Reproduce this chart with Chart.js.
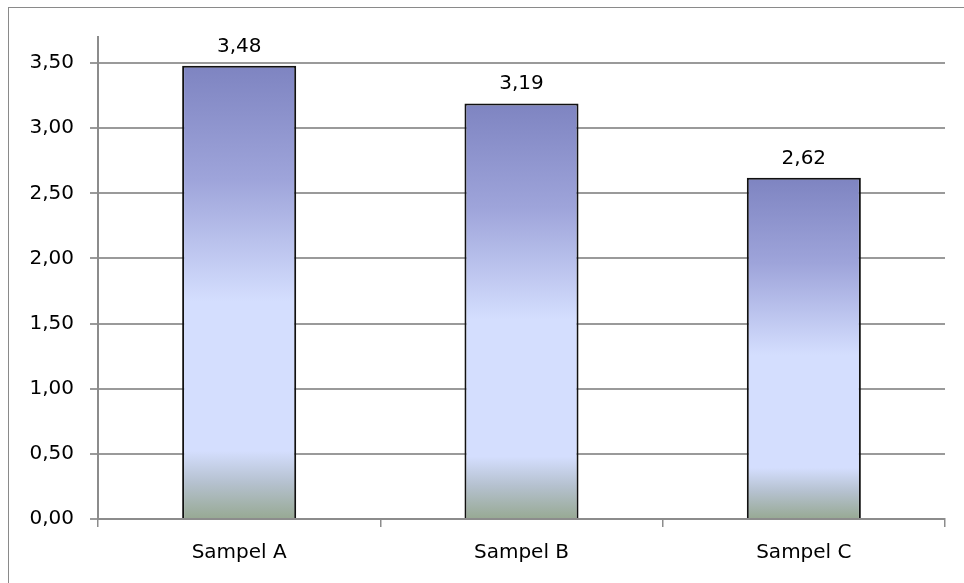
<!DOCTYPE html>
<html>
<head>
<meta charset="utf-8">
<script src="https://cdn.jsdelivr.net/npm/chart.js@4/dist/chart.umd.min.js"></script>
<style>
  html, body { margin: 0; padding: 0; background: #ffffff; }
  #wrap { position: relative; width: 964px; height: 583px; }
</style>
</head>
<body>
<div id="wrap"><canvas id="chart" width="964" height="583"></canvas></div>
<script>
// Kategori dan nilai rata-rata tiap sampel
const categories = ['Sampel A', 'Sampel B', 'Sampel C'];
const values = [3.48, 3.19, 2.62];
const yTicks = [0, 0.5, 1.0, 1.5, 2.0, 2.5, 3.0, 3.5];
const yMax = 3.7;

const FONT = '"DejaVu Sans", "Open Sans", sans-serif';
const FONT_SIZE = 20;
const fmt = v => v.toFixed(2).replace('.', ',');

// Vertical gradient spanning each bar from its top to the baseline
function barFill(context) {
  const chart = context.chart;
  if (!chart.chartArea) return '#c8d2f4';
  const y = chart.scales.y;
  const top = y.getPixelForValue(context.raw);
  const bottom = y.getPixelForValue(0);
  const g = chart.ctx.createLinearGradient(0, top, 0, bottom);
  g.addColorStop(0.00, '#7e84c1');
  g.addColorStop(0.25, '#9ea4da');
  g.addColorStop(0.52, '#d4defe');
  g.addColorStop(0.85, '#d4defe');
  g.addColorStop(0.92, '#b5c1cf');
  g.addColorStop(1.00, '#97a993');
  return g;
}

// Outer frame of the chart object (runs off the right and bottom edges)
const framePlugin = {
  id: 'frame',
  beforeDraw(chart) {
    const c = chart.ctx;
    c.save();
    c.strokeStyle = '#8a8a8a';
    c.lineWidth = 1;
    c.strokeRect(8.5, 7.5, 1000, 1000);
    c.restore();
  }
};

// Value printed above each bar
const valueLabels = {
  id: 'valueLabels',
  afterDatasetsDraw(chart) {
    const c = chart.ctx;
    const meta = chart.getDatasetMeta(0);
    c.save();
    c.font = FONT_SIZE + 'px ' + FONT;
    c.fillStyle = '#000000';
    c.textAlign = 'center';
    c.textBaseline = 'alphabetic';
    meta.data.forEach((bar, i) => {
      c.fillText(fmt(values[i]), bar.x, bar.y - 14);
    });
    c.restore();
  }
};

new Chart(document.getElementById('chart'), {
  type: 'bar',
  data: {
    labels: categories,
    datasets: [{
      data: values,
      backgroundColor: barFill,
      borderColor: '#111111',
      borderWidth: 2,
      borderSkipped: 'bottom',
      categoryPercentage: 1.0,
      barPercentage: 0.404
    }]
  },
  options: {
    responsive: false,
    animation: false,
    devicePixelRatio: 1,
    layout: { padding: { left: 0, right: 19, top: 37, bottom: 0 } },
    plugins: {
      legend: { display: false },
      tooltip: { enabled: false }
    },
    scales: {
      x: {
        type: 'category',
        offset: true,
        grid: {
          offset: true,
          drawOnChartArea: false,
          drawTicks: true,
          tickLength: 8,
          color: '#8c8c8c',
          lineWidth: 1.5
        },
        border: { display: true, color: '#8c8c8c', width: 2 },
        ticks: {
          color: '#000000',
          font: { family: FONT, size: FONT_SIZE },
          padding: 14
        },
        afterFit(scale) { scale.height = 64; }
      },
      y: {
        min: 0,
        max: yMax,
        afterBuildTicks(scale) {
          scale.ticks = yTicks.map(v => ({ value: v }));
        },
        grid: {
          color: '#9a9a9a',
          lineWidth: 2,
          drawTicks: true,
          tickLength: 8
        },
        border: { display: true, color: '#8c8c8c', width: 2 },
        ticks: {
          color: '#000000',
          font: { family: FONT, size: FONT_SIZE },
          padding: 16,
          callback: v => fmt(v)
        },
        afterFit(scale) { scale.width = 98; }
      }
    }
  },
  plugins: [framePlugin, valueLabels]
});
</script>
</body>
</html>
